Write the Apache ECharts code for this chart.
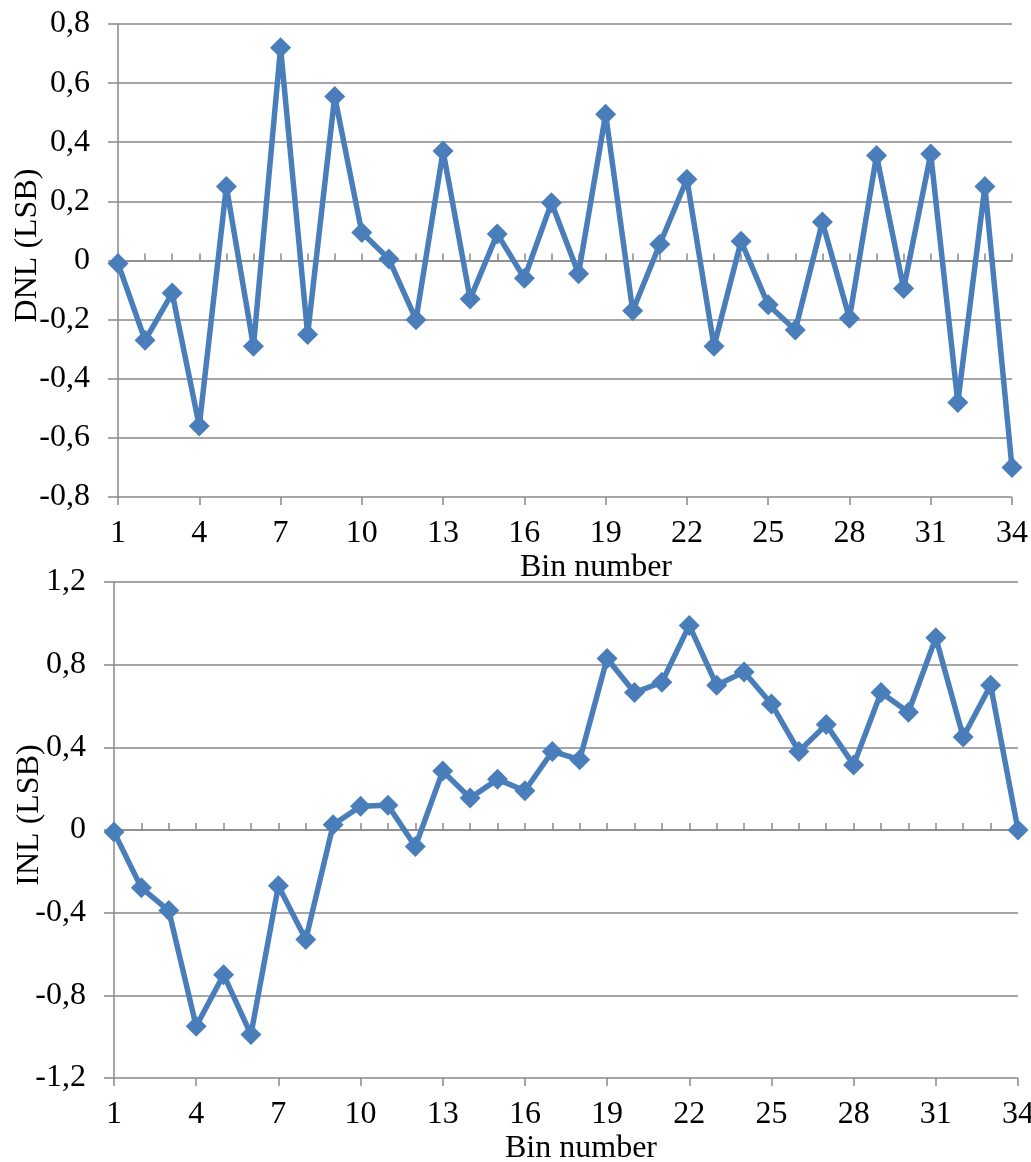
<!DOCTYPE html>
<html>
<head>
<meta charset="utf-8">
<script src="https://cdn.jsdelivr.net/npm/echarts@6/dist/echarts.min.js"></script>
<style>
html,body{margin:0;padding:0;background:#fff;}
#chart{width:1031px;height:1162px;}
</style>
</head>
<body>
<div id="chart"></div>
<script>
// ---- data ----
const bins = ['1','2','3','4','5','6','7','8','9','10','11','12','13','14','15','16','17','18','19','20','21','22','23','24','25','26','27','28','29','30','31','32','33','34'];
const dnl = [-0.01,-0.27,-0.11,-0.56,0.25,-0.29,0.72,-0.25,0.555,0.095,0.005,-0.20,0.37,-0.13,0.09,-0.06,0.195,-0.045,0.495,-0.17,0.055,0.275,-0.29,0.065,-0.15,-0.235,0.13,-0.195,0.355,-0.095,0.36,-0.48,0.25,-0.70];
const inl = [-0.01,-0.28,-0.39,-0.95,-0.70,-0.99,-0.27,-0.53,0.025,0.115,0.12,-0.08,0.285,0.155,0.245,0.19,0.38,0.34,0.83,0.665,0.715,0.99,0.70,0.765,0.61,0.38,0.51,0.315,0.665,0.57,0.93,0.45,0.70,0.0];
const dnlTickLabels = ['-0,8','-0,6','-0,4','-0,2','0','0,2','0,4','0,6','0,8'];
const inlTickLabels = ['-1,2','-0,8','-0,4','0','0,4','0,8','1,2'];
const xName = 'Bin number';
const dnlName = 'DNL (LSB)';
const inlName = 'INL (LSB)';

// ---- style ----
const FONT = 'Liberation Serif';
const GRID_COLOR = '#898989';
const LINE_COLOR = '#4A7EBB';

function mainX(gridIndex, namePadLeft) {
  return {
    type: 'category', gridIndex: gridIndex, data: bins, boundaryGap: false, position: 'bottom',
    axisLine: {show: true, lineStyle: {color: GRID_COLOR, width: 1.5}},
    axisTick: {show: true, inside: true, length: 7, interval: 0, lineStyle: {color: GRID_COLOR, width: 1.5}},
    axisLabel: {interval: 2, margin: 21, color: '#000', fontFamily: FONT, fontSize: 32},
    splitLine: {show: false},
    name: xName, nameLocation: 'middle', nameGap: 55,
    nameTextStyle: {color: '#000', fontFamily: FONT, fontSize: 32, padding: [0, 0, 0, namePadLeft]}
  };
}
function majorX(gridIndex) {
  return {
    type: 'category', gridIndex: gridIndex, data: bins, boundaryGap: false, position: 'bottom',
    axisLine: {show: false},
    axisTick: {show: true, inside: false, length: 8, interval: 2, lineStyle: {color: GRID_COLOR, width: 1.5}},
    axisLabel: {show: false},
    splitLine: {show: false}
  };
}
function yAx(gridIndex, min, max, interval, labels, name, nameGap) {
  return {
    type: 'value', gridIndex: gridIndex, min: min, max: max, interval: interval,
    axisLine: {show: true, lineStyle: {color: GRID_COLOR, width: 1.5}},
    axisTick: {show: true, length: 10, lineStyle: {color: GRID_COLOR, width: 1.5}},
    axisLabel: {margin: 28, color: '#000', fontFamily: FONT, fontSize: 32,
      formatter: function (v, i) { return labels[i]; }},
    splitLine: {show: true, lineStyle: {color: GRID_COLOR, width: 1.5}},
    name: name, nameLocation: 'middle', nameRotate: 90, nameGap: nameGap, nameMoveOverlap: false,
    nameTextStyle: {color: '#000', fontFamily: FONT, fontSize: 32, padding: [0, 0, 0, 30]}
  };
}
function lineSeries(xi, yi, data) {
  return {
    type: 'line', xAxisIndex: xi, yAxisIndex: yi, data: data,
    lineStyle: {color: LINE_COLOR, width: 5.5},
    itemStyle: {color: LINE_COLOR},
    symbol: 'diamond', symbolSize: 21, showSymbol: true, showAllSymbol: true,
    animation: false, z: 5
  };
}

const chart = echarts.init(document.getElementById('chart'), null, {renderer: 'canvas'});
chart.setOption({
  backgroundColor: '#fff',
  animation: false,
  grid: [
    {left: 118, right: 19, top: 24, height: 473, containLabel: false, outerBoundsMode: 'none'},
    {left: 114, right: 13, top: 582, height: 496, containLabel: false, outerBoundsMode: 'none'}
  ],
  xAxis: [mainX(0, 62), majorX(0), mainX(1, 30), majorX(1)],
  yAxis: [
    yAx(0, -0.8, 0.8, 0.2, dnlTickLabels, dnlName, 74),
    yAx(1, -1.2, 1.2, 0.4, inlTickLabels, inlName, 68)
  ],
  series: [
    lineSeries(0, 0, dnl),
    lineSeries(2, 1, inl)
  ]
});
</script>
</body>
</html>
